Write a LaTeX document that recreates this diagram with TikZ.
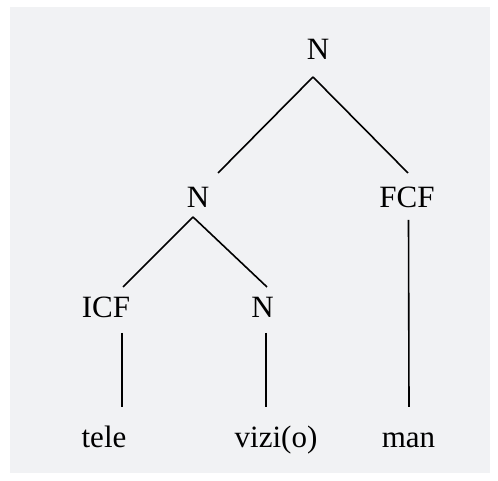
\documentclass[tikz,border=0pt]{standalone}
\usepackage{fontspec}
\setmainfont{Liberation Serif}
\definecolor{panelgray}{RGB}{241,242,244}

\begin{document}
\begin{tikzpicture}[x=1pt, y=1pt,
		label/.style={anchor=base, inner sep=0pt, font=\fontsize{31}{37}\selectfont},
		branch/.style={line width=1.6pt}]
		\useasboundingbox (0, 0) rectangle (498, 481);
		\fill[panelgray] (10, 8) rectangle (490, 474);
		% tree labels
		\node[label] (root) at (318, 421) {N};
		\node[label] (nmid) at (198, 273) {N};
		\node[label] (fcf) at (407, 273) {FCF};
		\node[label] (icf) at (106, 163) {ICF};
		\node[label] (nright) at (262.5, 163) {N};
		\node[label] (tele) at (104, 33) {tele};
		\node[label] (vizi) at (276, 33) {vizi(o)};
		\node[label] (man) at (408.5, 33) {man};
		% branches
		\draw[branch] ([shift={(-5, -17)}]root.base) -- ([shift={(20, 35)}]nmid.base);
		\draw[branch] ([shift={(-5, -17)}]root.base) -- ([shift={(1, 35)}]fcf.base);
		\draw[branch] ([shift={(-5, -9)}]nmid.base) -- ([shift={(17, 31)}]icf.base);
		\draw[branch] ([shift={(-5, -9)}]nmid.base) -- ([shift={(4.5, 31)}]nright.base);
		\draw[branch] ([shift={(16, -15)}]icf.base) -- ([shift={(18, 41)}]tele.base);
		\draw[branch] ([shift={(3.5, -15)}]nright.base) -- ([shift={(-10, 41)}]vizi.base);
		\draw[branch] ([shift={(1.5, -12)}]fcf.base) -- ([shift={(0.5, 41)}]man.base);
	\end{tikzpicture}
\end{document}
